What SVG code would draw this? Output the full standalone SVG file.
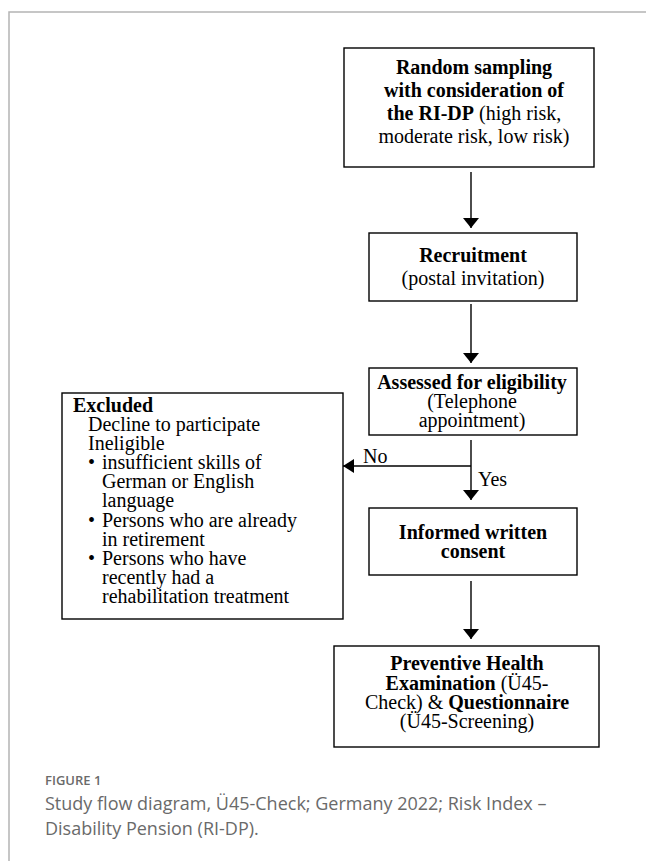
<svg xmlns="http://www.w3.org/2000/svg" width="646" height="861" viewBox="0 0 646 861">
<style>
.box{fill:#fff;stroke:#000;stroke-width:1.4}
.t{font-family:"Liberation Serif","Times New Roman",serif;font-size:20px;fill:#000}
.c{text-anchor:middle}
.b{font-weight:bold}
.ln{stroke:#000;stroke-width:1.4;fill:none}
.cap{font-family:"Open Sans","Noto Sans",sans-serif;fill:#6a6a6a}
</style>
<defs>
<marker id="ah" markerUnits="userSpaceOnUse" markerWidth="10" markerHeight="16" refX="10" refY="8" orient="auto">
<path d="M0,0 L10,8 L0,16 z" fill="#000"/>
</marker>
<marker id="ahs" markerUnits="userSpaceOnUse" markerWidth="11" markerHeight="14" refX="11" refY="7" orient="auto">
<path d="M0,0 L11,7 L0,14 z" fill="#000"/>
</marker>
</defs>
<rect width="646" height="861" fill="#fff"/>
<g id="frame">
<path d="M9,861 L9,12 L646,12" fill="none" stroke="#b4b4b4" stroke-width="1.5"/>
</g>
<g id="connectors">
<line class="ln" x1="471" y1="172" x2="471" y2="228" marker-end="url(#ah)"/>
<line class="ln" x1="471" y1="304" x2="471" y2="363" marker-end="url(#ah)"/>
<line class="ln" x1="471" y1="440" x2="471" y2="500" marker-end="url(#ah)"/>
<line class="ln" x1="471" y1="466" x2="343" y2="466" marker-end="url(#ahs)"/>
<line class="ln" x1="471" y1="581" x2="471" y2="639" marker-end="url(#ah)"/>
<text class="t" x="363" y="463">No</text>
<text class="t" x="478" y="486">Yes</text>
</g>
<g id="node-random">
<rect class="box" x="344" y="48" width="250" height="119"/>
<text class="t c b" x="474" y="74">Random sampling</text>
<text class="t c b" x="474" y="97">with consideration of</text>
<text class="t c" x="474" y="120"><tspan class="b">the RI-DP</tspan> (high risk,</text>
<text class="t c" x="474" y="143">moderate risk, low risk)</text>
</g>
<g id="node-recruitment">
<rect class="box" x="369" y="233" width="208" height="68"/>
<text class="t c b" x="473" y="262">Recruitment</text>
<text class="t c" x="473" y="285">(postal invitation)</text>
</g>
<g id="node-assessed">
<rect class="box" x="369" y="368" width="208" height="67"/>
<text class="t c b" x="472" y="389">Assessed for eligibility</text>
<text class="t c" x="472" y="408">(Telephone</text>
<text class="t c" x="472" y="427">appointment)</text>
</g>
<g id="node-excluded">
<rect class="box" x="62" y="393" width="281" height="226"/>
<text class="t b" x="73" y="412">Excluded</text>
<text class="t" x="88" y="431">Decline to participate</text>
<text class="t" x="88" y="450">Ineligible</text>
<text class="t" x="88" y="469">•</text>
<text class="t" x="102" y="469">insufficient skills of</text>
<text class="t" x="102" y="488">German or English</text>
<text class="t" x="102" y="507">language</text>
<text class="t" x="88" y="527">•</text>
<text class="t" x="102" y="527">Persons who are already</text>
<text class="t" x="102" y="546">in retirement</text>
<text class="t" x="88" y="565">•</text>
<text class="t" x="102" y="565">Persons who have</text>
<text class="t" x="102" y="584">recently had a</text>
<text class="t" x="102" y="603">rehabilitation treatment</text>
</g>
<g id="node-consent">
<rect class="box" x="369" y="508" width="208" height="67"/>
<text class="t c b" x="473" y="539">Informed written</text>
<text class="t c b" x="473" y="558">consent</text>
</g>
<g id="node-examination">
<rect class="box" x="334" y="646" width="265" height="101"/>
<text class="t c b" x="467" y="670">Preventive Health</text>
<text class="t c" x="467" y="690"><tspan class="b">Examination</tspan> (Ü45-</text>
<text class="t c" x="467" y="709">Check) &amp; <tspan class="b">Questionnaire</tspan></text>
<text class="t c" x="467" y="728">(Ü45-Screening)</text>
</g>
<g id="caption">
<text class="cap" x="45" y="785" font-size="13" font-weight="600">FIGURE 1</text>
<text class="cap" x="45" y="810" font-size="18">Study flow diagram, Ü45-Check; Germany 2022; Risk Index –</text>
<text class="cap" x="45" y="835" font-size="18">Disability Pension (RI-DP).</text>
</g>
</svg>
